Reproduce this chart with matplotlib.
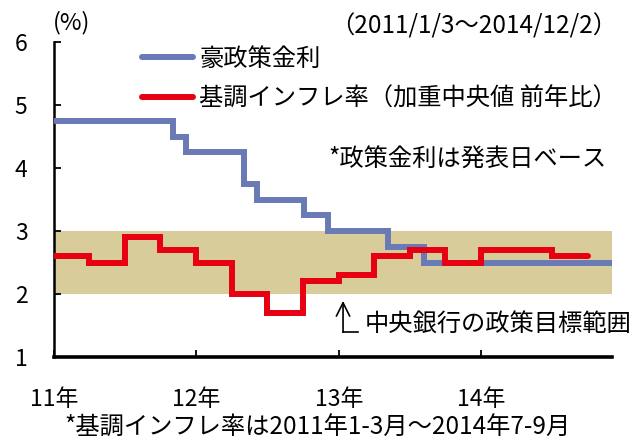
import matplotlib
matplotlib.use("Agg")
import matplotlib.pyplot as plt
import matplotlib.dates as mdates
import pandas as pd

plt.rcParams['font.family'] = ['Noto Sans CJK JP', 'DejaVu Sans']

# Policy rate (announcement dates) – RBA cash rate
rate_dates = ['2011-01-03', '2011-11-01', '2011-12-06', '2012-05-01', '2012-06-05',
              '2012-10-02', '2012-12-04', '2013-05-07', '2013-08-06', '2014-12-02']
rate_values = [4.75, 4.50, 4.25, 3.75, 3.50, 3.25, 3.00, 2.75, 2.50, 2.50]

# Underlying inflation (weighted median, y/y), quarterly 2011Q1 - 2014Q3
infl_dates = ['2011-01-01', '2011-04-01', '2011-07-01', '2011-10-01',
              '2012-01-01', '2012-04-01', '2012-07-01', '2012-10-01',
              '2013-01-01', '2013-04-01', '2013-07-01', '2013-10-01',
              '2014-01-01', '2014-04-01', '2014-07-01', '2014-10-01']
infl_values = [2.6, 2.5, 2.9, 2.7, 2.5, 2.0, 1.7, 2.2,
               2.3, 2.6, 2.7, 2.5, 2.7, 2.7, 2.6, 2.6]

target_low, target_high = 2.0, 3.0
year_ticks = ['2011-01-01', '2012-01-01', '2013-01-01', '2014-01-01']
year_labels = ['11年', '12年', '13年', '14年']

x_start, x_end = pd.Timestamp('2011-01-01'), pd.Timestamp('2014-12-02')

BLUE = '#6A7AB5'
RED = '#E60012'
BAND = '#D8CC9A'

fig = plt.figure(figsize=(6.38, 4.41), dpi=100)
ax = fig.add_axes([54/638, 1-357/441, 558/638, 315/441])

ax.axhspan(target_low, target_high, color=BAND, zorder=1, lw=0)
ax.step(pd.to_datetime(rate_dates), rate_values, where='post', color=BLUE, lw=4.3,
        solid_capstyle='round', solid_joinstyle='miter', zorder=3, label='豪政策金利')
ax.step(pd.to_datetime(infl_dates), infl_values, where='post', color=RED, lw=4.3,
        solid_capstyle='round', solid_joinstyle='miter', zorder=4,
        label='基調インフレ率（加重中央値 前年比）')

ax.set_xlim(x_start, x_end)
ax.set_ylim(1, 6)
ax.set_yticks([1, 2, 3, 4, 5, 6])
ax.set_xticks(pd.to_datetime(year_ticks))
ax.set_xticklabels(year_labels)

for s in ['top', 'right']:
    ax.spines[s].set_visible(False)
ax.spines['left'].set_linewidth(1.8)
ax.spines['bottom'].set_linewidth(2.6)
ax.tick_params(axis='both', direction='in', length=5, width=1.3, labelsize=16.5)
ax.tick_params(axis='y', pad=19)
ax.tick_params(axis='x', pad=22)

leg = ax.legend(loc='upper left', bbox_to_anchor=(142/638, 1-46/441),
                bbox_transform=fig.transFigure, frameon=False, fontsize=17.5,
                handlelength=2.1, handletextpad=0.25, labelspacing=0.55,
                borderpad=0, borderaxespad=0)

fig.text(72/638, 1-23/441, '(%)', fontsize=17, ha='center', va='center')
fig.text(617/638, 1-26/441, '（2011/1/3～2014/12/2）', fontsize=17.5, ha='right', va='center')
fig.text(328/638, 1-160/441, '*政策金利は発表日ベース', fontsize=17.5, ha='left', va='center')
fig.text(318/638, 1-428/441, '*基調インフレ率は2011年1-3月～2014年7-9月', fontsize=17.5,
         ha='center', va='center')

# arrow to target band
ax.annotate('', xy=(0.518, 0.178), xytext=(0.518, 0.079), xycoords='axes fraction',
            arrowprops=dict(arrowstyle='->', lw=1.2, color='black', mutation_scale=24,
                            shrinkA=0, shrinkB=0))
ax.plot([0.518, 0.545], [0.079, 0.079], transform=ax.transAxes, color='black', lw=1.2,
        clip_on=False)
ax.text(0.557, 0.102, '中央銀行の政策目標範囲', transform=ax.transAxes, fontsize=17.5,
        ha='left', va='center')

fig.savefig('out.png', dpi=100)
